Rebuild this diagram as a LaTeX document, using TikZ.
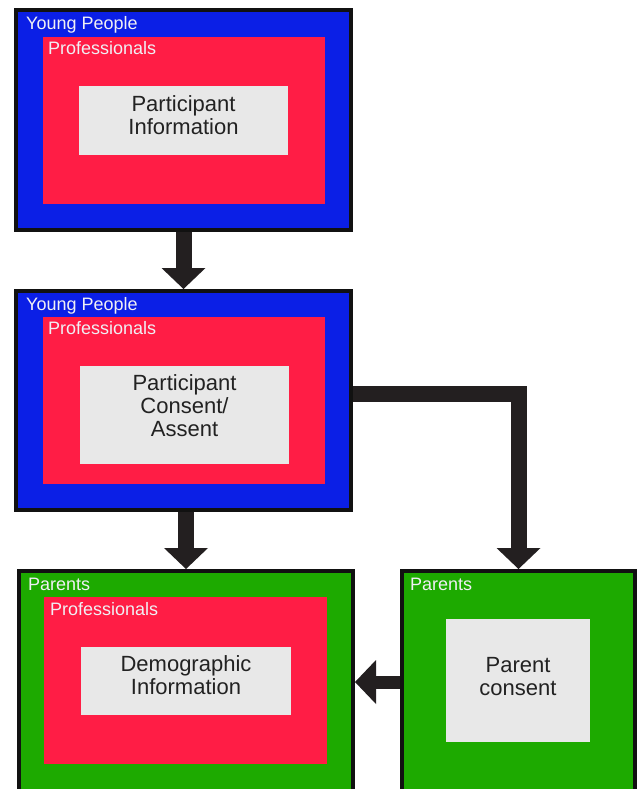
\documentclass[tikz,border=0pt]{standalone}
\usepackage{fontspec}
\setmainfont{Liberation Sans}
\usetikzlibrary{arrows.meta}
\definecolor{ypblue}{HTML}{0B1FE6}
\definecolor{profred}{HTML}{FF1D45}
\definecolor{parentgreen}{HTML}{1DAA00}
\definecolor{cardgray}{HTML}{E8E8E8}
\definecolor{edge}{HTML}{111111}
\definecolor{flowdark}{HTML}{231F20}
\definecolor{labelwhite}{HTML}{F0F0F4}
\definecolor{inktext}{HTML}{222222}
\begin{document}
\begin{tikzpicture}[x=1pt,y=-1pt,
  panel/.style={draw=edge,line width=4pt,inner sep=0pt,outer sep=2pt},
  area/.style={draw=none,inner sep=0pt,outer sep=0pt},
  grouplabel/.style={anchor=base west,inner sep=0pt,text=labelwhite,
    font=\fontsize{18}{20}\selectfont},
  cardtext/.style={align=center,inner sep=0pt,text=inktext,
    font=\fontsize{22}{23}\selectfont},
  flow/.style={draw=flowdark,line width=16pt,line join=miter,
    -{Triangle[width=44pt,length=21pt,line width=0pt]}}]
\clip (0,0) rectangle (639,789);
\fill[white] (0,0) rectangle (639,789);

% outer group panels
\node[panel,fill=ypblue,minimum width=335pt,minimum height=220pt] (b1) at (183.5,120) {};
\node[panel,fill=ypblue,minimum width=335pt,minimum height=219pt] (b2) at (183.5,400.5) {};
\node[panel,fill=parentgreen,minimum width=334pt,minimum height=222pt] (b3) at (186,682) {};
\node[panel,fill=parentgreen,minimum width=233pt,minimum height=222pt] (b4) at (518.5,682) {};

% professionals areas
\node[area,fill=profred,minimum width=282pt,minimum height=167pt] (r1) at (184,120.5) {};
\node[area,fill=profred,minimum width=282pt,minimum height=167pt] (r2) at (184,400.5) {};
\node[area,fill=profred,minimum width=283pt,minimum height=167pt] (r3) at (185.5,680.5) {};

% gray cards
\node[area,fill=cardgray,minimum width=209pt,minimum height=69pt] (g1) at (183.5,120.5) {};
\node[area,fill=cardgray,minimum width=209pt,minimum height=98pt] (g2) at (184.5,415) {};
\node[area,fill=cardgray,minimum width=210pt,minimum height=68pt] (g3) at (186,681) {};
\node[area,fill=cardgray,minimum width=144pt,minimum height=123pt] (g4) at (518,680.5) {};

% card texts
\node[cardtext] (t1) at (183.5,115) {Participant\\Information};
\node[cardtext] (t2) at (184.5,406) {Participant\\Consent/\\Assent};
\node[cardtext] (t3) at (186,675.5) {Demographic\\Information};
\node[cardtext] (t4) at (518,676.5) {Parent\\consent};

% group labels
\node[grouplabel] (l1) at (26,30) {Young People};
\node[grouplabel] (l2) at (48,55) {Professionals};
\node[grouplabel] (l3) at (26,310) {Young People};
\node[grouplabel] (l4) at (48,334) {Professionals};
\node[grouplabel] (l5) at (28,590) {Parents};
\node[grouplabel] (l6) at (50,615) {Professionals};
\node[grouplabel] (l7) at (410,590) {Parents};

% connectors
\draw[flow] (b1.south) -- (b2.north);
\draw[flow] (b2.south -| b3.north) -- (b3.north);
\draw[flow] (b2.east |- 0,394) -| (b4.north);
\draw[flow,line width=13pt] (b4.west) -- (b3.east);
\end{tikzpicture}
\end{document}
